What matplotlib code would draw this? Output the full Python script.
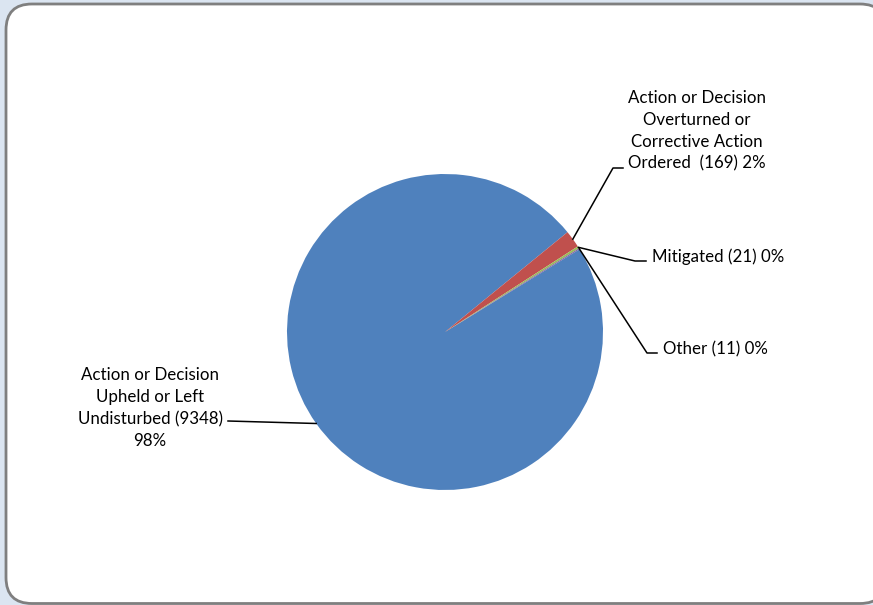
import numpy as np
import matplotlib
matplotlib.use("Agg")
import matplotlib.pyplot as plt
from matplotlib.patches import FancyBboxPatch

# data
categories = ["Action or Decision Upheld or Left Undisturbed",
              "Action or Decision Overturned or Corrective Action Ordered",
              "Mitigated",
              "Other"]
counts = [9348, 169, 21, 11]
label_texts = ["Action or Decision\nUpheld or Left\nUndisturbed (9348)\n98%",
               "Action or Decision\nOverturned or\nCorrective Action\nOrdered  (169) 2%",
               "Mitigated (21) 0%",
               "Other (11) 0%"]
colors = ["#4F81BD", "#C0504D", "#9BBB59", "#8064A2"]

W, H = 873, 605
plt.rcParams['font.family'] = ['Lato', 'DejaVu Sans']

fig = plt.figure(figsize=(W / 100, H / 100), dpi=100)
fig.patch.set_facecolor("#dbe5f1")
ax = fig.add_axes([0, 0, 1, 1])
ax.set_axis_off()

# chart area frame (pixel coords, y up)
frame = FancyBboxPatch((6, 1.5), 880, 599.5, boxstyle="round,pad=0,rounding_size=26",
                       facecolor="white", edgecolor="#7f7f7f", linewidth=2, zorder=0)
ax.add_patch(frame)

cx, cy, r = 445, H - 332, 158
wedges, _ = ax.pie(counts, colors=colors, startangle=31.6, counterclock=False,
                   center=(cx, cy), radius=r, frame=True,
                   wedgeprops=dict(linewidth=0))
ax.set_xlim(0, W)
ax.set_ylim(0, H)
ax.set_axis_off()

def edge_point(w):
    a = np.deg2rad((w.theta1 + w.theta2) / 2)
    return cx + r * np.cos(a), cy + r * np.sin(a)

# leader line elbows / label anchors (pixel coords from top)
elbows = [[(228, 421)],
          [(613, 168), (623, 168)],
          [(635, 261), (646, 261)],
          [(647, 353), (657, 353)]]
anchors = [(150, 408, "center"), (697, 131, "center"),
           (652, 257, "left"), (663, 349, "left")]

for w, pts, (tx, ty, ha), txt in zip(wedges, elbows, anchors, label_texts):
    x0, y0 = edge_point(w)
    xs = [x0] + [p[0] for p in pts]
    ys = [y0] + [H - p[1] for p in pts]
    ax.plot(xs, ys, color="black", linewidth=1.1, zorder=3)
    ax.text(tx, H - ty, txt, ha=ha, va="center", multialignment="center",
            fontsize=12.2, linespacing=1.45, color="black", zorder=4)

fig.savefig("out.png", dpi=100, facecolor=fig.get_facecolor())
